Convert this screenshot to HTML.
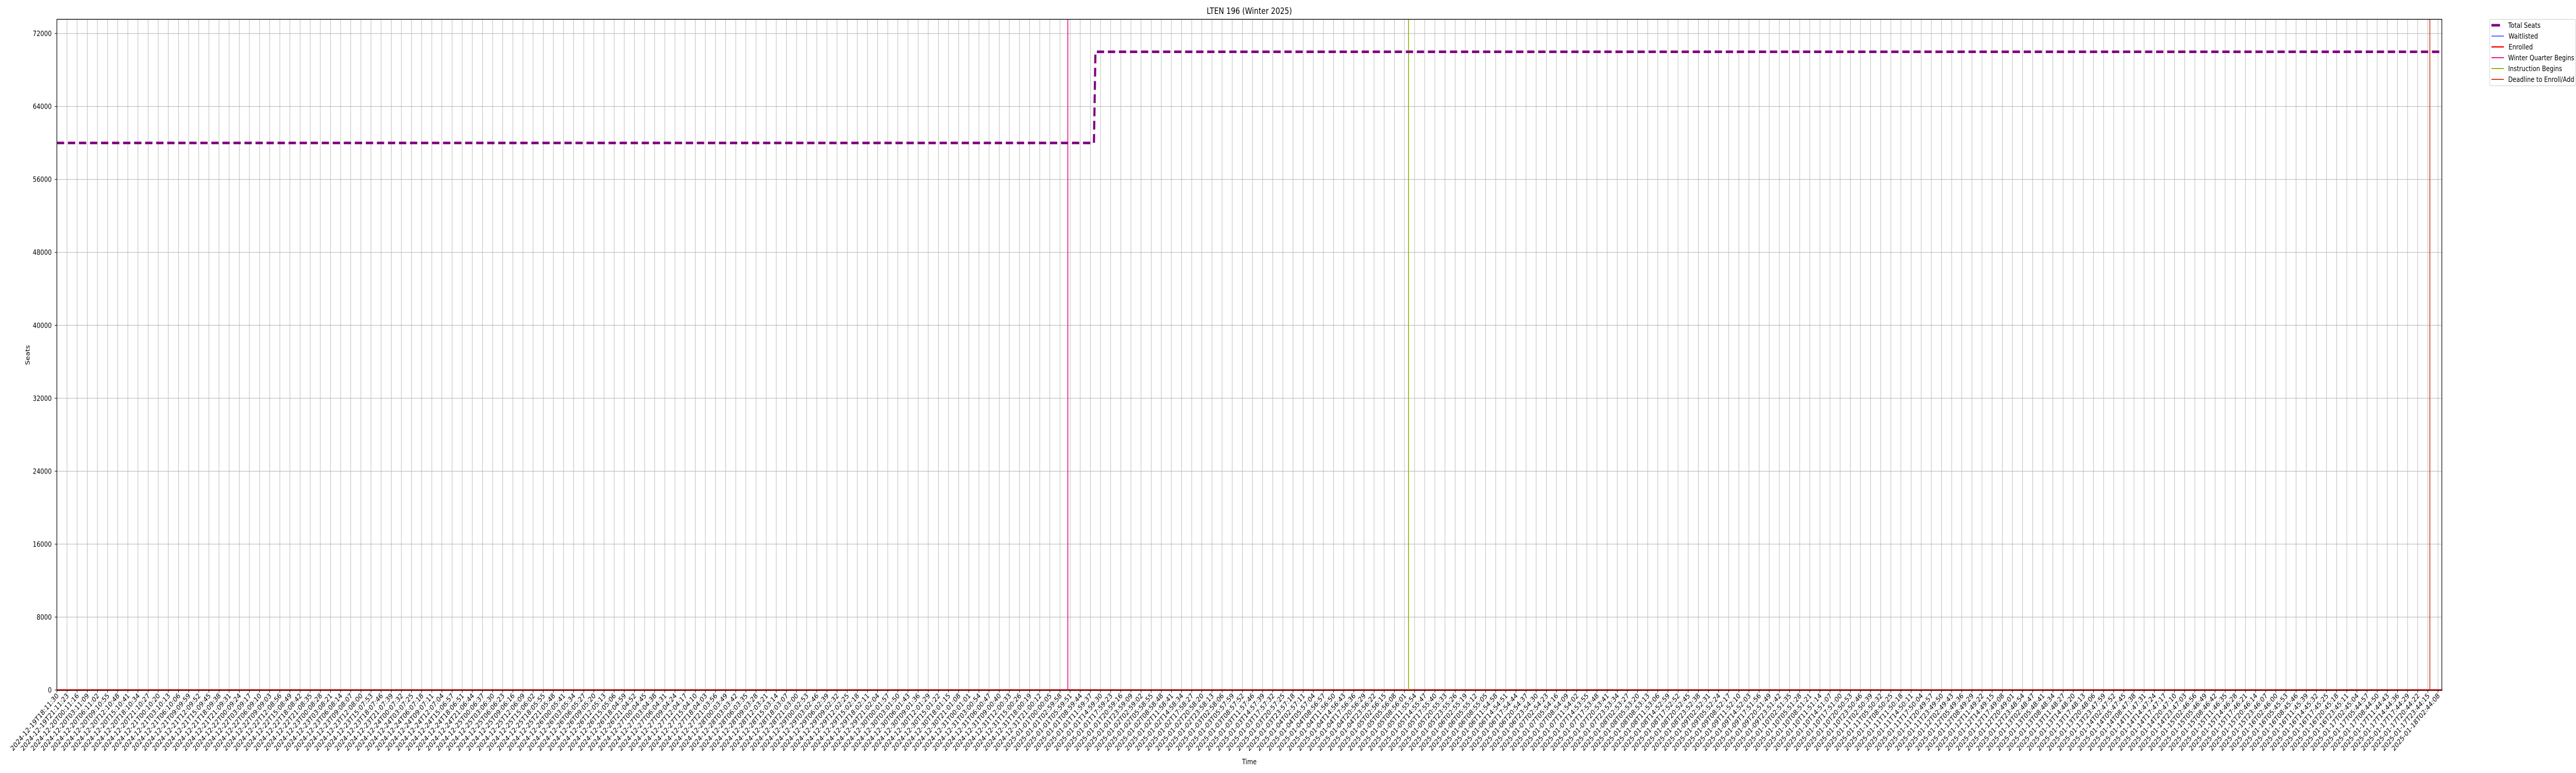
<!DOCTYPE html>
<html><head><meta charset="utf-8"><style>
html,body{margin:0;padding:0;background:#fff;width:100vw;height:100vh;overflow:hidden;}
svg{display:block;overflow:hidden;width:100vw;height:100vh;font-family:"DejaVu Sans","Liberation Sans",sans-serif;}
</style></head><body>
<svg id="chart" viewBox="0 0 6000 1500" preserveAspectRatio="none" xmlns="http://www.w3.org/2000/svg">
<rect width="6000" height="1500" fill="#fff"/>
<g id="grid"></g>
<g id="marks"></g>
<rect x="132.5" y="37.5" width="5555" height="1302" fill="none" stroke="#000" stroke-width="1.4"/>
<g id="xticks"></g>
<g id="yticks"></g>
<text x="2910" y="27" font-size="16.7" text-anchor="middle">LTEN 196 (Winter 2025)</text>
<text x="2910" y="1483" font-size="13.9" text-anchor="middle">Time</text>
<text x="0" y="0" font-size="13.9" text-anchor="middle" transform="translate(69,689) rotate(-90)">Seats</text>
<g>
<rect x="5799" y="37.5" width="200" height="129" rx="3" fill="#fff" stroke="#ccc" stroke-width="1"/>
<g><line x1="5803" y1="49" x2="5823" y2="49" stroke="#800080" stroke-width="5"/><text x="5842" y="54" font-size="13.9">Total Seats</text></g>
<g><line x1="5803" y1="70" x2="5832" y2="70" stroke="#0000ff" stroke-width="1.2"/><text x="5843" y="75" font-size="13.9">Waitlisted</text></g>
<g><line x1="5803" y1="91" x2="5832" y2="91" stroke="#ff0000" stroke-width="2.5"/><text x="5843" y="96" font-size="13.9">Enrolled</text></g>
<g><line x1="5803" y1="112" x2="5832" y2="112" stroke="#e7128c" stroke-width="2"/><text x="5842" y="117" font-size="13.9" textLength="154" lengthAdjust="spacingAndGlyphs">Winter Quarter Begins</text></g>
<g><line x1="5803" y1="133" x2="5832" y2="133" stroke="#8db600" stroke-width="2"/><text x="5842" y="138" font-size="13.9">Instruction Begins</text></g>
<g><line x1="5803" y1="154" x2="5832" y2="154" stroke="#d2401b" stroke-width="2"/><text x="5842" y="159" font-size="13.9" textLength="154" lengthAdjust="spacingAndGlyphs">Deadline to Enroll/Add</text></g>
</g>
</svg>
<script>
// ---- data ----
const tickCount = 236;
const startTime = "2024-12-19T18:11:30";
const endTime = "2025-01-18T02:44:08";
const yTicks = [0, 8000, 16000, 24000, 32000, 40000, 48000, 56000, 64000, 72000];
const seatsX = [0, 102.35, 102.5, 235.42];
const seatsY = [60000, 60000, 70000, 70000];
const enrolledX = [0, 235.42];
const enrolledY = [0, 0];
const waitlistedX = [0, 235.42];
const waitlistedY = [0, 0];
const eventNames = ["winter-quarter-begins", "instruction-begins", "deadline-enroll-add"];
const eventX = [99.77, 133.4, 234.2];
const eventColors = ["#e7128c", "#8db600", "#d2401b"];

// ---- scales ----
const L = 132.5, R = 5687.5, T = 37.5, B = 1339;
const STEP = 23.6;
const xs = i => L + i * STEP;
const yMax = 73560;
const ys = v => B - v / yMax * (B - T);
const NS = "http://www.w3.org/2000/svg";
function mk(tag, attrs, parent) { const e = document.createElementNS(NS, tag); for (const k in attrs) e.setAttribute(k, attrs[k]); parent.appendChild(e); return e; }
const grid = document.getElementById('grid'), marks = document.getElementById('marks');
const xt = document.getElementById('xticks'), yt = document.getElementById('yticks');

const t0 = Date.parse(startTime + "Z"), t1 = Date.parse(endTime + "Z");
const tickLabels = [];
for (let i = 0; i < tickCount; i++) {
  const t = new Date(t0 + Math.round((t1 - t0) * i / (tickCount - 1) / 1000) * 1000);
  tickLabels.push(t.toISOString().slice(0, 19));
}
tickLabels.forEach((lab, i) => {
  const x = xs(i);
  const g = mk('line', {x1: x, y1: T, x2: x, y2: B, stroke: '#b0b0b0', 'stroke-width': 1}, grid);
  
  
  const tk = mk('line', {x1: x, y1: B, x2: x, y2: B + 5, stroke: '#000', 'stroke-width': 1.1}, xt);
  
  
  const tx = mk('text', {x: 0, y: 0, 'font-size': 13.9, 'text-anchor': 'end', transform: `translate(${x + 5},${B + 12}) rotate(-45)`}, xt);
  tx.textContent = lab;
  
  
});
yTicks.forEach(v => {
  const y = ys(v);
  const g = mk('line', {x1: L, y1: y, x2: R, y2: y, stroke: '#b0b0b0', 'stroke-width': 1}, grid);
  
  
  const tk = mk('line', {x1: L - 5, y1: y, x2: L, y2: y, stroke: '#000', 'stroke-width': 1.1}, yt);
  
  
  const tx = mk('text', {x: L - 12, y: y + 5, 'font-size': 13.9, 'text-anchor': 'end'}, yt);
  tx.textContent = String(v);
  
  
});
function pts(X, Y) { return X.map((x, i) => xs(x).toFixed(1) + ',' + ys(Y[i]).toFixed(1)).join(' '); }
const wl = mk('polyline', {points: pts(waitlistedX, waitlistedY), fill: 'none', stroke: '#0000ff', 'stroke-width': 1.2}, marks);


const en = mk('polyline', {points: pts(enrolledX, enrolledY), fill: 'none', stroke: '#ff0000', 'stroke-width': 3}, marks);


eventX.forEach((e, i) => {
  const l = mk('line', {x1: xs(e), y1: T, x2: xs(e), y2: B, stroke: eventColors[i], 'stroke-width': 2}, marks);
  
  
});
const st = mk('polyline', {points: pts(seatsX, seatsY), fill: 'none', stroke: '#800080', 'stroke-width': 5, 'stroke-dasharray': '17 8.7', 'stroke-linejoin': 'round'}, marks);


</script>
</body></html>
